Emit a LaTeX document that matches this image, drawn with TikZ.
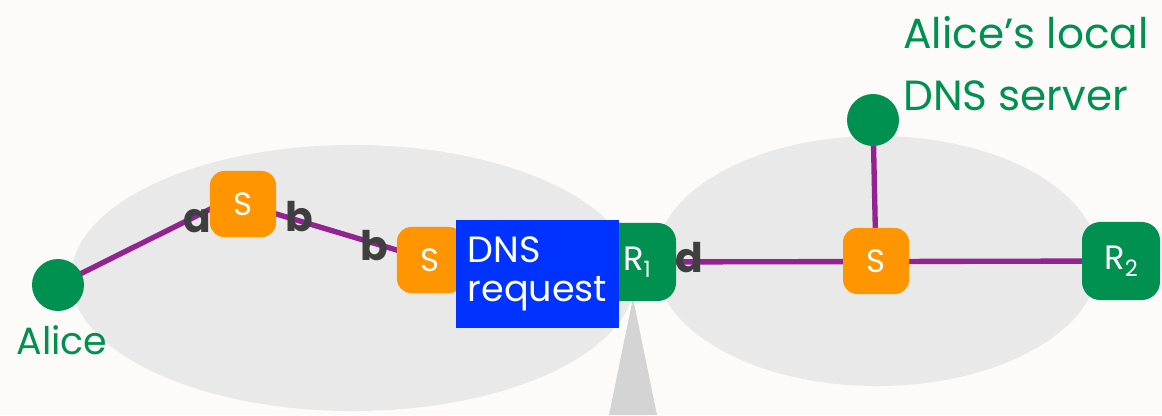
\documentclass[tikz,border=0pt]{standalone}
\usepackage{fontspec}
\setmainfont{Poppins}
\usetikzlibrary{backgrounds,calc}
\definecolor{bgc}{HTML}{FDFBFA}
\definecolor{netgreen}{HTML}{00904F}
\definecolor{netorange}{HTML}{FF9500}
\definecolor{netblue}{HTML}{0033FF}
\definecolor{netpurple}{HTML}{922391}
\definecolor{cloudgray}{HTML}{E9E9E9}
\definecolor{conegray}{HTML}{D4D4D4}
\definecolor{labgray}{HTML}{3F3F3F}
\tikzset{
  host/.style={circle, fill=netgreen, minimum size=1.3cm, inner sep=0pt},
  sw/.style={rectangle, rounded corners=10pt, fill=netorange, minimum size=1.65cm, inner sep=0pt, text=white, font=\fontsize{23}{23}\selectfont},
  rt/.style={rectangle, rounded corners=13pt, fill=netgreen, minimum size=1.95cm, inner sep=0pt, text=white, font=\fontsize{24}{24}\selectfont},
  reqbox/.style={rectangle, fill=netblue, minimum width=4.075cm, minimum height=2.7cm, inner sep=0pt, text=white, align=left, font=\fontsize{26}{28}\selectfont},
  portlab/.style={anchor=base, text=labgray, inner sep=0pt, font=\fontsize{29}{29}\selectfont\bfseries},
  namelab/.style={text=netgreen, inner sep=0pt, font=\fontsize{27}{44}\selectfont},
  titlelab/.style={text=netgreen, inner sep=0pt, font=\fontsize{30}{44}\selectfont},
  link/.style={draw=netpurple, line width=3.8pt},
}
\begin{document}
\begin{tikzpicture}[x=0.025cm, y=-0.025cm]
\useasboundingbox (0,0) rectangle (1162,415);
% nodes
\node[host] (alice) at (58,285) {};
\node[namelab, anchor=base] (alicel) at (62,354) {Alice};
\node[sw] (s1) at (243,204) {S};
\node[sw] (s2) at (430,260) {S};
\node[rt] (r1) at (637,262) {R\raisebox{-0.22em}{\fontsize{16}{16}\selectfont 1}};
\node[reqbox] (req) at (537.5,274) {DNS\\request};
\node[sw] (s3) at (876,261) {S};
\node[rt] (r2) at (1121,261) {R\raisebox{-0.22em}{\fontsize{16}{16}\selectfont 2}};
\node[host] (dns) at (873,120) {};
\node[titlelab, anchor=base west, align=left] (dnsl) at (903,110) {Alice’s local\\DNS server};
% port labels
\node[portlab] (pa) at (197,232) {a};
\node[portlab] (pb1) at (299,231) {b};
\node[portlab] (pb2) at (374,260) {b};
\node[portlab] (pd) at (689,272) {d};
\begin{scope}[on background layer]
  \fill[bgc] (0,0) rectangle (1162,415);
  \fill[cloudgray] (353,278) ellipse [x radius=7.05cm, y radius=3.325cm];
  \fill[cloudgray] (877,261) ellipse [x radius=5.55cm, y radius=3.125cm];
  \fill[conegray] (633,298) -- (609,415) -- (657,415) -- cycle;
  \draw[link] (alice.center) -- ([yshift=8pt]s1.center);
  \draw[link] (s1.center) -- (s2.center);
  \draw[link] (r1.center) -- (r2.center);
  \draw[link] (dns.center) -- (s3.center);
\end{scope}
\end{tikzpicture}
\end{document}
